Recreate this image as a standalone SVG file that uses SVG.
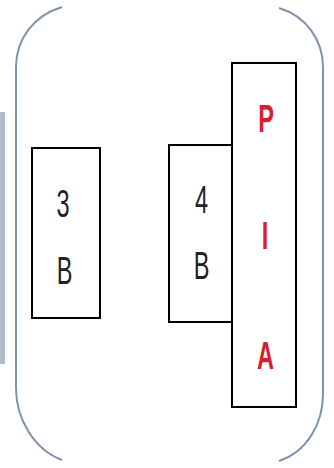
<svg xmlns="http://www.w3.org/2000/svg" width="334" height="468" viewBox="0 0 334 468">
<style>
.box{fill:#fff;stroke:#000;stroke-width:2}
.br{fill:none;stroke:#8090b0;stroke-width:2}
.t{font-family:"Liberation Sans",Arial,sans-serif;font-size:38px;text-anchor:middle;fill:#222}
.r{font-family:"Liberation Sans",Arial,sans-serif;font-size:38px;font-weight:bold;text-anchor:middle;fill:#d42030}
</style>
<rect width="334" height="468" fill="#fff"/>
<rect x="0" y="112" width="5" height="252" fill="#b0bccc"/>
<g id="connectors">
<path class="br" d="M62,7 C35,15 16,38 16,67 L16,388 C16,420 35,450 62,460"/>
<path class="br" d="M279,8 C306,16 323,40 323,67 L323,394 C323,425 306,452 279,461"/>
</g>
<g id="node3B">
<rect class="box" x="32" y="148" width="68" height="170"/>
<text class="t" transform="translate(63,217) scale(0.62,1)">3</text>
<text class="t" transform="translate(64.5,284) scale(0.62,1)">B</text>
</g>
<g id="node4B">
<rect class="box" x="169" y="145" width="63" height="177"/>
<text class="t" transform="translate(201.5,213) scale(0.62,1)">4</text>
<text class="t" transform="translate(201.5,279) scale(0.62,1)">B</text>
</g>
<g id="nodePIA">
<rect class="box" x="232" y="63" width="64" height="344"/>
<text class="r" transform="translate(266,132) scale(0.62,1)">P</text>
<text class="r" transform="translate(265,249) scale(0.62,1)">I</text>
<text class="r" transform="translate(265.5,369) scale(0.62,1)">A</text>
</g>
</svg>
